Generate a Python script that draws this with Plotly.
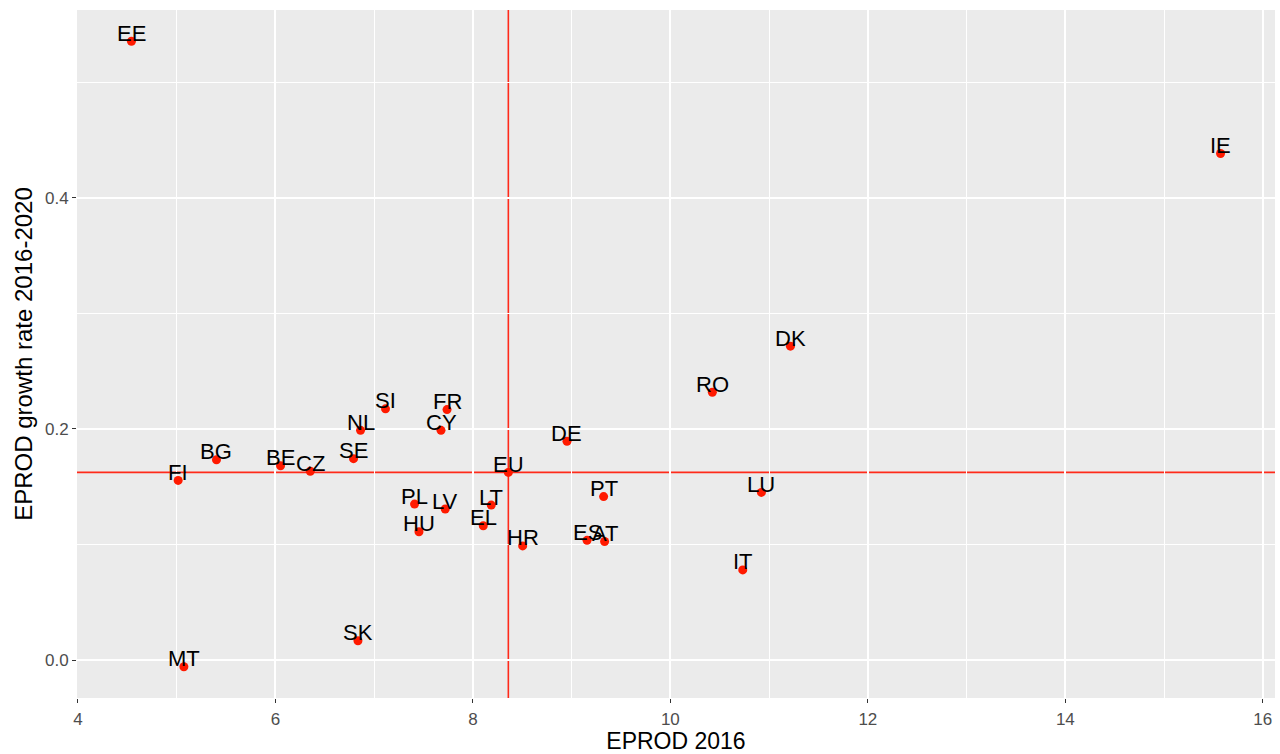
import plotly.graph_objects as go

countries = ["EE", "IE", "DK", "RO", "DE", "SI", "FR", "NL", "CY", "SE", "BG", "BE", "CZ", "FI",
             "EU", "PT", "LU", "PL", "LV", "LT", "HU", "EL", "HR", "ES", "AT", "IT", "SK", "MT"]
eprod_2016 = [4.542, 15.572, 11.216, 10.425, 8.953, 7.115, 7.738, 6.862, 7.677, 6.791, 5.403, 6.052, 6.353, 5.015,
              8.359, 9.324, 10.922, 7.409, 7.720, 8.186, 7.454, 8.105, 8.504, 9.156, 9.334, 10.733, 6.836, 5.073]
growth_2016_2020 = [0.5356, 0.4385, 0.2717, 0.2318, 0.1893, 0.2174, 0.2168, 0.1988, 0.1988, 0.1743, 0.1734, 0.1682,
                    0.1634, 0.1555, 0.1624, 0.1415, 0.1451, 0.1350, 0.1307, 0.1341, 0.1110, 0.1162, 0.0988, 0.1036,
                    0.1026, 0.0780, 0.0167, -0.0058]
x_ticks = [4, 6, 8, 10, 12, 14, 16]
y_ticks = [0.0, 0.2, 0.4]
y_tick_labels = ["0.0", "0.2", "0.4"]

eu_idx = countries.index("EU")
eu_x = eprod_2016[eu_idx]
eu_y = growth_2016_2020[eu_idx]

FONT = "Liberation Sans, Arial, Helvetica, sans-serif"

fig = go.Figure()
fig.add_trace(go.Scatter(
    x=eprod_2016, y=growth_2016_2020, mode="markers",
    marker=dict(color="#FF1A00", size=9, line=dict(width=0)),
    showlegend=False, hoverinfo="text", text=countries,
))

fig.add_vline(x=eu_x, line=dict(color="#FF2A1A", width=1.6), layer="below")
fig.add_hline(y=eu_y, line=dict(color="#FF2A1A", width=1.6), layer="below")

for c, xv, yv in zip(countries, eprod_2016, growth_2016_2020):
    fig.add_annotation(x=xv, y=yv, text=c, showarrow=False, xanchor="center", yanchor="middle",
                       yshift=8, font=dict(family=FONT, size=22, color="black"))

xmin, xmax = min(eprod_2016), max(eprod_2016)
ymin, ymax = min(growth_2016_2020), max(growth_2016_2020)
xpad = (xmax - xmin) * 0.05
ypad = (ymax - ymin) * 0.05

fig.update_layout(
    width=1280, height=754,
    margin=dict(l=77, r=5, t=10, b=56),
    paper_bgcolor="white", plot_bgcolor="#EBEBEB",
    font=dict(family=FONT),
    xaxis=dict(
        range=[xmin - xpad, xmax + xpad], tickvals=x_ticks, ticktext=[str(v) for v in x_ticks],
        showgrid=True, gridcolor="white", gridwidth=1.5, zeroline=False,
        minor=dict(dtick=1, tick0=0, showgrid=True, gridcolor="white", gridwidth=0.7),
        ticks="outside", ticklen=4, tickwidth=1.2, tickcolor="#333333",
        ticklabelstandoff=2,
        tickfont=dict(family=FONT, size=17, color="#4D4D4D"),
        title=dict(text="EPROD 2016", font=dict(family=FONT, size=23, color="black"), standoff=4),
        showline=False,
    ),
    yaxis=dict(
        range=[ymin - ypad, ymax + ypad], tickvals=y_ticks, ticktext=y_tick_labels,
        showgrid=True, gridcolor="white", gridwidth=1.5, zeroline=False,
        minor=dict(dtick=0.1, tick0=0, showgrid=True, gridcolor="white", gridwidth=0.7),
        ticks="outside", ticklen=4, tickwidth=1.2, tickcolor="#333333",
        tickfont=dict(family=FONT, size=17, color="#4D4D4D"),
        title=dict(text="EPROD growth rate 2016-2020", font=dict(family=FONT, size=24, color="black"), standoff=5),
        showline=False,
    ),
)

fig.write_html("out.html")
